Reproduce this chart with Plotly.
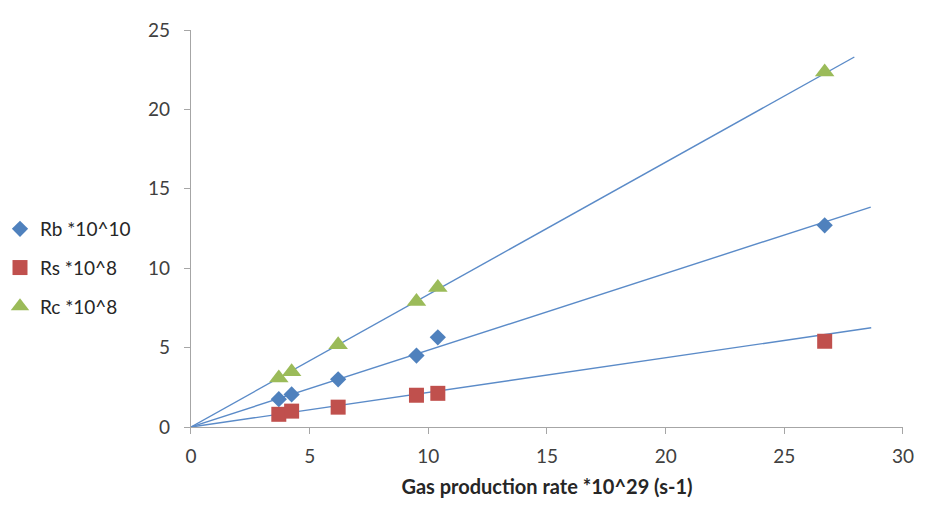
import plotly.graph_objects as go

# Data
x_rate = [3.7, 4.24, 6.2, 9.5, 10.4, 26.7]
rb = [1.75, 2.05, 3.0, 4.5, 5.65, 12.7]
rs = [0.8, 1.0, 1.25, 2.0, 2.12, 5.4]
rc = [3.08, 3.48, 5.18, 7.9, 8.78, 22.35]

series_names = ["Rb *10^10", "Rs *10^8", "Rc *10^8"]
series_values = [rb, rs, rc]

# Linear trendlines (start / end points)
trend_x = [[-0.4, 28.64], [-0.4, 28.66], [-0.4, 27.95]]
trend_y = [[-0.19, 13.85], [-0.09, 6.25], [-0.33, 23.3]]

series_colors = ["#4F81BD", "#C0504D", "#9BBB59"]
series_symbols = ["diamond", "square", "triangle-up"]
series_sizes = [12.5, 15, 17]

fig = go.Figure()

for tx, ty in zip(trend_x, trend_y):
    fig.add_trace(go.Scatter(
        x=tx, y=ty, mode="lines",
        line=dict(color="#5B8BC8", width=1.4),
        showlegend=False, hoverinfo="skip", cliponaxis=False,
    ))

for name, vals, col, sym, sz in zip(series_names, series_values, series_colors,
                                    series_symbols, series_sizes):
    fig.add_trace(go.Scatter(
        x=x_rate, y=vals, mode="markers", name=name, legendgroup=name,
        marker=dict(symbol=sym, color=col, size=sz, line=dict(width=0)),
        cliponaxis=False,
    ))

font_family = "Lato, 'Open Sans', Arial, sans-serif"

fig.update_layout(
    width=926, height=509,
    paper_bgcolor="white", plot_bgcolor="white",
    margin=dict(l=190, r=21, t=30, b=82),
    font=dict(family=font_family, size=19, color="#404040"),
    showlegend=True,
    legend=dict(
        xref="container", yref="container",
        x=0, y=1 - 210 / 509,
        xanchor="left", yanchor="top",
        font=dict(size=19, color="#262626"),
        tracegroupgap=11, itemwidth=30,
        bgcolor="rgba(0,0,0,0)",
    ),
    xaxis=dict(
        range=[0, 30], tickvals=[0, 5, 10, 15, 20, 25, 30],
        showgrid=False, zeroline=False,
        showline=True, linecolor="#A6A6A6", linewidth=1.3,
        ticks="outside", ticklen=6, tickcolor="#A6A6A6", tickwidth=1.3,
        ticklabelstandoff=6,
        tickfont=dict(size=19, color="#404040"),
        title=dict(text="<b>Gas production rate *10^29 (s-1)</b>",
                   font=dict(size=20, color="#262626"), standoff=14),
    ),
    yaxis=dict(
        range=[0, 25], tickvals=[0, 5, 10, 15, 20, 25],
        showgrid=False, zeroline=False,
        showline=True, linecolor="#A6A6A6", linewidth=1.3,
        ticks="outside", ticklen=6, tickcolor="#A6A6A6", tickwidth=1.3,
        ticklabelstandoff=10,
        tickfont=dict(size=19, color="#404040"),
    ),
)

fig.write_html("out.html")
